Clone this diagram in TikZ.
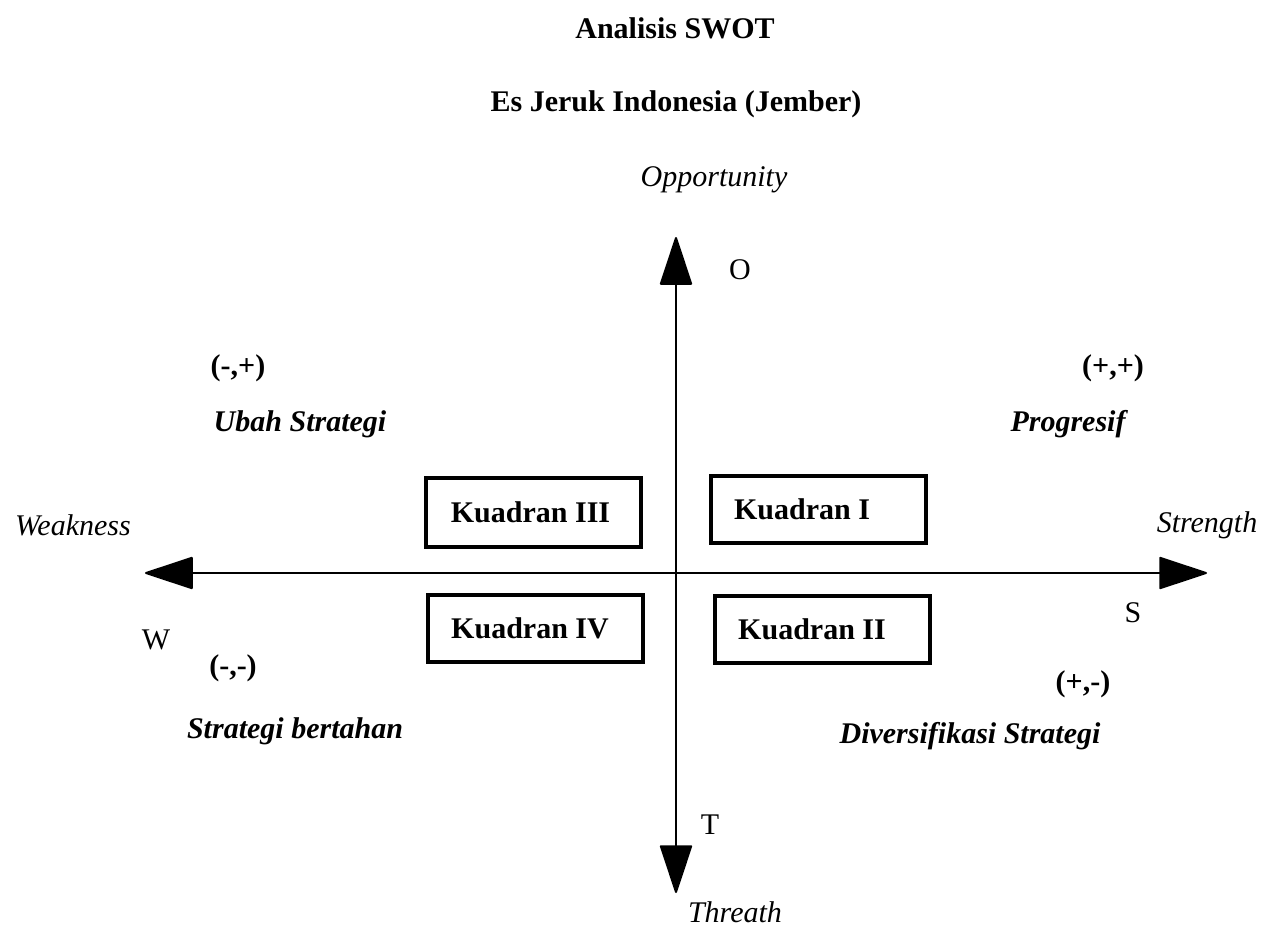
\documentclass[12pt,tikz,border=0pt]{standalone}
\usepackage{fontspec}
\setmainfont{Liberation Serif}
\usetikzlibrary{arrows.meta}

\tikzset{
  sumbu/.style={line width=0.8pt,
    {Triangle[length=20pt,width=13pt,round]}-{Triangle[length=20pt,width=13pt,round]}},
  kotak/.style={draw, line width=1.6pt, font=\bfseries, inner sep=0pt,
    minimum width=86pt, minimum height=26.8pt},
  judul/.style={font=\bfseries},
  miring/.style={font=\itshape},
  strategi/.style={font=\bfseries\itshape}
}

\begin{document}
\begin{tikzpicture}[x=0.4pt,y=-0.4pt]
\useasboundingbox (0,0) rectangle (1263,934);
% judul
\node[judul] (judul1) at (675,28) {Analisis SWOT};
\node[judul] (judul2) at (676,104) {Es Jeruk Indonesia (Jember)};
% sumbu
\coordinate (ujungO) at (676,237);
\coordinate (ujungT) at (676,893);
\coordinate (ujungW) at (145,573);
\coordinate (ujungS) at (1207,573);
\draw[sumbu] (ujungT) -- (ujungO);
\draw[sumbu] (ujungW) -- (ujungS);
\node[miring] (opp) at (714,180) {Opportunity};
\node[miring] (thr) at (735,912) {Threath};
\node[miring] (weak) at (73,525) {Weakness};
\node[miring] (str) at (1207,525) {Strength};
\node (hurufO) at (740,270) {O};
\node (hurufT) at (710,825) {T};
\node (hurufS) at (1133,613) {S};
\node (hurufW) at (156,640) {W};
% kuadran
\node[kotak, minimum height=27.6pt] (k3) at (533,512) {Kuadran III\hspace*{2pt}};
\node[kotak] (k1) at (818,509) {Kuadran I\hspace*{12.8pt}};
\node[kotak] (k4) at (535,628) {Kuadran IV\hspace*{4pt}};
\node[kotak] (k2) at (822,629) {Kuadran II\hspace*{8pt}};
% tanda dan strategi
\node[judul] (tanda3) at (238,368) {(-,+)};
\node[strategi] (ubah) at (300,424) {Ubah Strategi};
\node[judul] (tanda1) at (1113,368) {(+,+)};
\node[strategi] (prog) at (1068,424) {Progresif};
\node[judul] (tanda4) at (233,668) {(-,-)};
\node[strategi] (tahan) at (295,731) {Strategi bertahan};
\node[judul] (tanda2) at (1083,684) {(+,-)};
\node[strategi] (divers) at (970,736) {Diversifikasi Strategi};
\end{tikzpicture}
\end{document}
